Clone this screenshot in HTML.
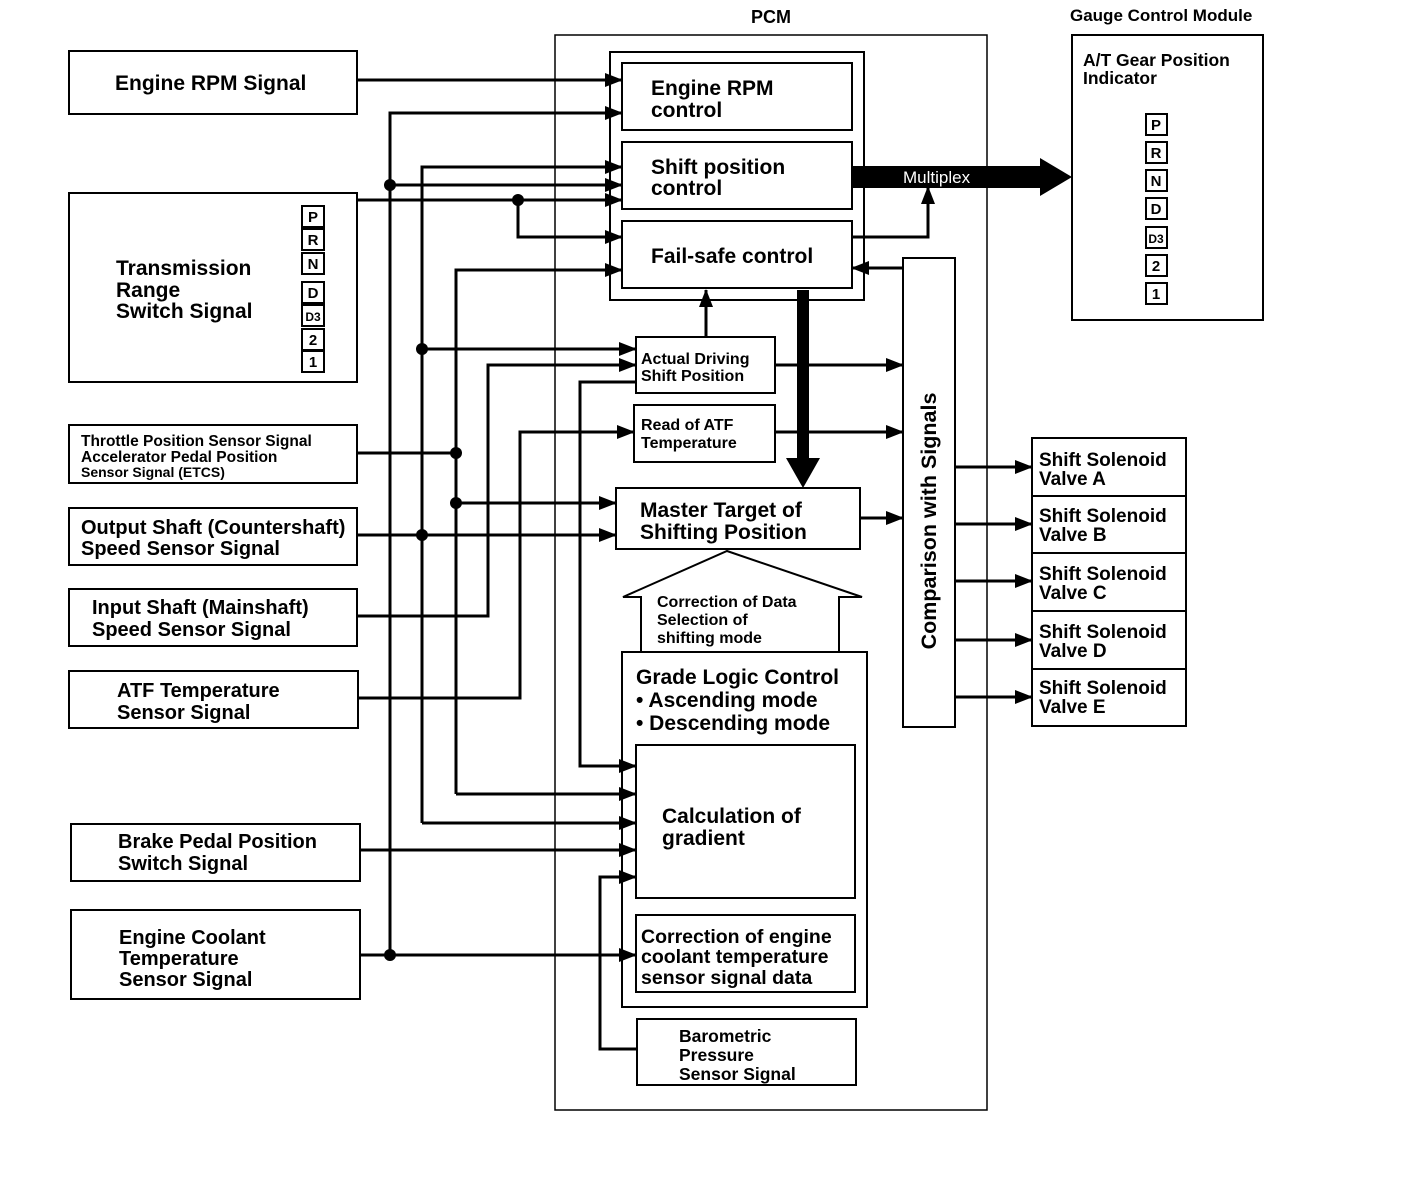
<!DOCTYPE html>
<html><head><meta charset="utf-8"><style>
html,body{margin:0;padding:0;background:#fff;}
svg{display:block;}
text{font-family:"Liberation Sans",sans-serif;font-weight:bold;fill:#000;}
</style></head><body>
<svg width="1408" height="1184" viewBox="0 0 1408 1184" xmlns="http://www.w3.org/2000/svg">
<defs>
<marker id="a" markerWidth="18" markerHeight="14" refX="17" refY="7" orient="auto" markerUnits="userSpaceOnUse"><polygon points="0,0 18,7 0,14" fill="#000"/></marker>
</defs>
<g fill="none" stroke="#000" stroke-width="2">
<rect x="69" y="51" width="288" height="63"/>
<rect x="69" y="193" width="288" height="189"/>
<rect x="69" y="425" width="288" height="58"/>
<rect x="69" y="508" width="288" height="57"/>
<rect x="69" y="589" width="288" height="57"/>
<rect x="69" y="671" width="289" height="57"/>
<rect x="71" y="824" width="289" height="57"/>
<rect x="71" y="910" width="289" height="89"/>
<rect x="555" y="35" width="432" height="1075" stroke-width="1.5"/>
<rect x="610" y="52" width="254" height="248"/>
<rect x="622" y="63" width="230" height="67"/>
<rect x="622" y="142" width="230" height="67"/>
<rect x="622" y="221" width="230" height="67"/>
<rect x="636" y="337" width="139" height="56"/>
<rect x="634" y="405" width="141" height="57"/>
<rect x="616" y="488" width="244" height="61"/>
<polyline points="641,652 641,597 623,597 727,551 862,597 839,597 839,652"/>
<rect x="622" y="652" width="245" height="355"/>
<rect x="636" y="745" width="219" height="153"/>
<rect x="636" y="915" width="219" height="77"/>
<rect x="637" y="1019" width="219" height="66"/>
<rect x="903" y="258" width="52" height="469"/>
<rect x="1072" y="35" width="191" height="285"/>
<rect x="1032" y="438" width="154" height="288"/>
<line x1="1032" y1="496" x2="1186" y2="496"/>
<line x1="1032" y1="553" x2="1186" y2="553"/>
<line x1="1032" y1="611" x2="1186" y2="611"/>
<line x1="1032" y1="669" x2="1186" y2="669"/>
</g>
<g fill="none" stroke="#000" stroke-width="2">
<rect x="302" y="206" width="22" height="21"/><rect x="302" y="229" width="22" height="21"/><rect x="302" y="253" width="22" height="21"/>
<rect x="302" y="282" width="22" height="21"/><rect x="302" y="305" width="22" height="21"/><rect x="302" y="329" width="22" height="21"/><rect x="302" y="351" width="22" height="21"/>
<rect x="1146" y="114" width="21" height="21"/><rect x="1146" y="142" width="21" height="21"/><rect x="1146" y="170" width="21" height="21"/>
<rect x="1146" y="198" width="21" height="21"/><rect x="1146" y="227" width="21" height="21"/><rect x="1146" y="255" width="21" height="21"/><rect x="1146" y="283" width="21" height="21"/>
</g>
<g font-size="15" text-anchor="middle">
<text x="313" y="222">P</text><text x="313" y="245">R</text><text x="313" y="269">N</text><text x="313" y="298">D</text><text x="313" y="321" font-size="12">D3</text><text x="313" y="345">2</text><text x="313" y="367">1</text>
<text x="1156" y="130">P</text><text x="1156" y="158">R</text><text x="1156" y="186">N</text><text x="1156" y="214">D</text><text x="1156" y="243" font-size="12">D3</text><text x="1156" y="271">2</text><text x="1156" y="299">1</text>
</g>
<g fill="none" stroke="#000" stroke-width="3">
<line x1="357" y1="80" x2="622" y2="80" marker-end="url(#a)"/>
<polyline points="390,955 390,113 622,113" marker-end="url(#a)"/>
<polyline points="422,823 422,167 622,167" marker-end="url(#a)"/>
<line x1="390" y1="185" x2="622" y2="185" marker-end="url(#a)"/>
<line x1="357" y1="200" x2="622" y2="200" marker-end="url(#a)"/>
<polyline points="518,200 518,237 622,237" marker-end="url(#a)"/>
<polyline points="456,794 456,270 622,270" marker-end="url(#a)"/>
<line x1="422" y1="349" x2="636" y2="349" marker-end="url(#a)"/>
<polyline points="357,616 488,616 488,365 636,365" marker-end="url(#a)"/>
<polyline points="636,382 580,382 580,766 636,766" marker-end="url(#a)"/>
<polyline points="358,698 520,698 520,432 634,432" marker-end="url(#a)"/>
<line x1="357" y1="453" x2="456" y2="453"/>
<line x1="456" y1="503" x2="616" y2="503" marker-end="url(#a)"/>
<line x1="357" y1="535" x2="616" y2="535" marker-end="url(#a)"/>
<line x1="456" y1="794" x2="636" y2="794" marker-end="url(#a)"/>
<line x1="422" y1="823" x2="636" y2="823" marker-end="url(#a)"/>
<line x1="360" y1="850" x2="636" y2="850" marker-end="url(#a)"/>
<polyline points="637,1049 600,1049 600,877 636,877" marker-end="url(#a)"/>
<line x1="360" y1="955" x2="636" y2="955" marker-end="url(#a)"/>
<line x1="775" y1="365" x2="903" y2="365" marker-end="url(#a)"/>
<line x1="775" y1="432" x2="903" y2="432" marker-end="url(#a)"/>
<line x1="860" y1="518" x2="903" y2="518" marker-end="url(#a)"/>
<line x1="903" y1="268" x2="852" y2="268" marker-end="url(#a)"/>
<polyline points="852,237 928,237 928,187" marker-end="url(#a)"/>
<line x1="706" y1="337" x2="706" y2="290" marker-end="url(#a)"/>
<line x1="955" y1="467" x2="1032" y2="467" marker-end="url(#a)"/>
<line x1="955" y1="524" x2="1032" y2="524" marker-end="url(#a)"/>
<line x1="955" y1="581" x2="1032" y2="581" marker-end="url(#a)"/>
<line x1="955" y1="640" x2="1032" y2="640" marker-end="url(#a)"/>
<line x1="955" y1="697" x2="1032" y2="697" marker-end="url(#a)"/>
</g>
<g fill="#000">
<circle cx="390" cy="185" r="6"/><circle cx="518" cy="200" r="6"/><circle cx="422" cy="349" r="6"/>
<circle cx="456" cy="453" r="6"/><circle cx="456" cy="503" r="6"/><circle cx="422" cy="535" r="6"/><circle cx="390" cy="955" r="6"/>
<rect x="797" y="290" width="12" height="170"/>
<polygon points="786,458 820,458 803,488"/>
<rect x="852" y="166" width="198" height="22"/>
<polygon points="1040,158 1072,177 1040,196"/>
</g>
<text x="903" y="183" font-size="17" style="fill:#fff;font-weight:normal">Multiplex</text>
<text x="771" y="23" font-size="18" text-anchor="middle">PCM</text>
<text x="1070" y="21" font-size="17">Gauge Control Module</text>
<text x="1083" y="66" font-size="17.5">A/T Gear Position</text>
<text x="1083" y="84" font-size="17.5">Indicator</text>
<g font-size="21">
<text x="115" y="90">Engine RPM Signal</text>
<text x="116" y="275">Transmission</text><text x="116" y="297">Range</text><text x="116" y="318">Switch Signal</text>
<text x="651" y="95">Engine RPM</text><text x="651" y="117">control</text>
<text x="651" y="174">Shift position</text><text x="651" y="195">control</text>
<text x="651" y="263">Fail-safe control</text>
<text x="640" y="517">Master Target of</text><text x="640" y="539">Shifting Position</text>
<text x="636" y="684">Grade Logic Control</text>
<text x="636" y="707">• Ascending mode</text>
<text x="636" y="730">• Descending mode</text>
<text x="662" y="823">Calculation of</text><text x="662" y="845">gradient</text>
</g>
<g font-size="20">
<text x="81" y="534">Output Shaft (Countershaft)</text><text x="81" y="555">Speed Sensor Signal</text>
<text x="92" y="614">Input Shaft (Mainshaft)</text><text x="92" y="636">Speed Sensor Signal</text>
<text x="117" y="697">ATF Temperature</text><text x="117" y="719">Sensor Signal</text>
<text x="118" y="848">Brake Pedal Position</text><text x="118" y="870">Switch Signal</text>
<text x="119" y="944">Engine Coolant</text><text x="119" y="965">Temperature</text><text x="119" y="986">Sensor Signal</text>
</g>
<g font-size="15.5">
<text x="81" y="446">Throttle Position Sensor Signal</text>
<text x="81" y="462">Accelerator Pedal Position</text>
<text x="81" y="477" font-size="14">Sensor Signal (ETCS)</text>
</g>
<g font-size="16">
<text x="641" y="364">Actual Driving</text><text x="641" y="381">Shift Position</text>
<text x="641" y="430">Read of ATF</text><text x="641" y="448">Temperature</text>
<text x="657" y="607">Correction of Data</text><text x="657" y="625">Selection of</text><text x="657" y="643">shifting mode</text>
</g>
<g font-size="19.5">
<text x="641" y="943">Correction of engine</text><text x="641" y="963">coolant temperature</text><text x="641" y="984">sensor signal data</text>
</g>
<g font-size="17.5">
<text x="679" y="1042">Barometric</text><text x="679" y="1061">Pressure</text><text x="679" y="1080">Sensor Signal</text>
</g>
<g font-size="19">
<text x="1039" y="466">Shift Solenoid</text><text x="1039" y="485">Valve A</text>
<text x="1039" y="522">Shift Solenoid</text><text x="1039" y="541">Valve B</text>
<text x="1039" y="580">Shift Solenoid</text><text x="1039" y="599">Valve C</text>
<text x="1039" y="638">Shift Solenoid</text><text x="1039" y="657">Valve D</text>
<text x="1039" y="694">Shift Solenoid</text><text x="1039" y="713">Valve E</text>
</g>
<text x="0" y="0" font-size="21.5" text-anchor="middle" transform="translate(936,521) rotate(-90)">Comparison with Signals</text>
</svg>
</body></html>
